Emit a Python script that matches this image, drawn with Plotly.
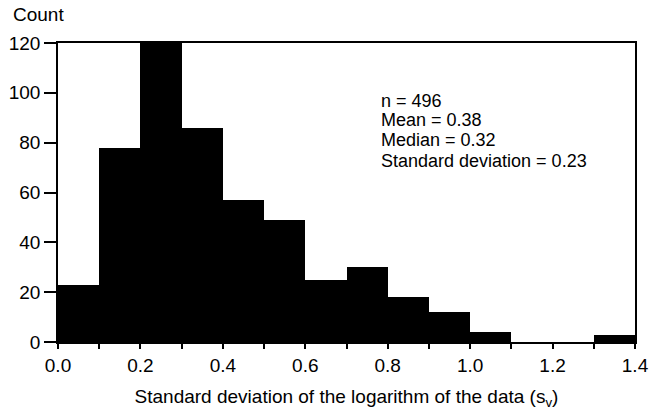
import plotly.graph_objects as go

# Histogram bins (lower edges) and counts
bin_starts = [0.0, 0.1, 0.2, 0.3, 0.4, 0.5, 0.6, 0.7, 0.8, 0.9, 1.0, 1.1, 1.2, 1.3]
counts = [23, 78, 120, 86, 57, 49, 25, 30, 18, 12, 4, 0, 0, 3]
bin_width = 0.1

stats_lines = ["n = 496", "Mean = 0.38", "Median = 0.32", "Standard deviation = 0.23"]

x_tickvals = [0.0, 0.2, 0.4, 0.6, 0.8, 1.0, 1.2, 1.4]
x_ticktext = ["0.0", "0.2", "0.4", "0.6", "0.8", "1.0", "1.2", "1.4"]
y_tickvals = [0, 20, 40, 60, 80, 100, 120]

FONT = "Liberation Sans, Arial, Helvetica, sans-serif"

fig = go.Figure()
fig.add_trace(go.Bar(
    x=bin_starts, y=counts, width=bin_width, offset=0,
    marker=dict(color="black", line=dict(width=0)),
    hoverinfo="x+y",
))

annotations = []
# stats text block
ys = [96.9, 88.9, 80.9, 72.7]
for txt, yy in zip(stats_lines, ys):
    annotations.append(dict(x=0.779, y=yy, xref="x", yref="y", text=txt,
                            showarrow=False, xanchor="left", yanchor="middle",
                            font=dict(size=18, color="black", family=FONT)))
annotations.append(dict(x=-0.082, y=1.095, xref="paper", yref="paper", text="Count",
                        showarrow=False, xanchor="left", yanchor="middle",
                        font=dict(size=19, color="black", family=FONT)))

fig.update_layout(
    width=655, height=418,
    margin=dict(l=58, r=20, t=43, b=76),
    paper_bgcolor="white", plot_bgcolor="white",
    bargap=0, showlegend=False,
    font=dict(family=FONT, size=19, color="black"),
    annotations=annotations,
)
fig.update_xaxes(
    range=[0, 1.4], tickvals=x_tickvals, ticktext=x_ticktext,
    ticks="outside", ticklen=5, tickwidth=1.5, tickcolor="black",
    minor=dict(dtick=0.1, tick0=0, ticks="outside", ticklen=5, tickwidth=1.5, tickcolor="black"),
    showline=True, linecolor="black", linewidth=1.5, mirror=True,
    showgrid=False, zeroline=False, ticklabelstandoff=0,
    tickfont=dict(size=19),
    title=dict(text="Standard deviation of the logarithm of the data (s<sub>v</sub>)",
               font=dict(size=19), standoff=15),
    automargin=False,
)
fig.update_yaxes(
    range=[0, 120], tickvals=y_tickvals,
    ticks="outside", ticklen=12, tickwidth=1.5, tickcolor="black",
    showline=True, linecolor="black", linewidth=1.5, mirror=True,
    showgrid=False, zeroline=False, ticklabelstandoff=0,
    tickfont=dict(size=19),
    automargin=False,
)

fig.write_html("out.html", config={"displayModeBar": False},
               post_script="document.body.style.margin='0';document.body.style.padding='0';")
